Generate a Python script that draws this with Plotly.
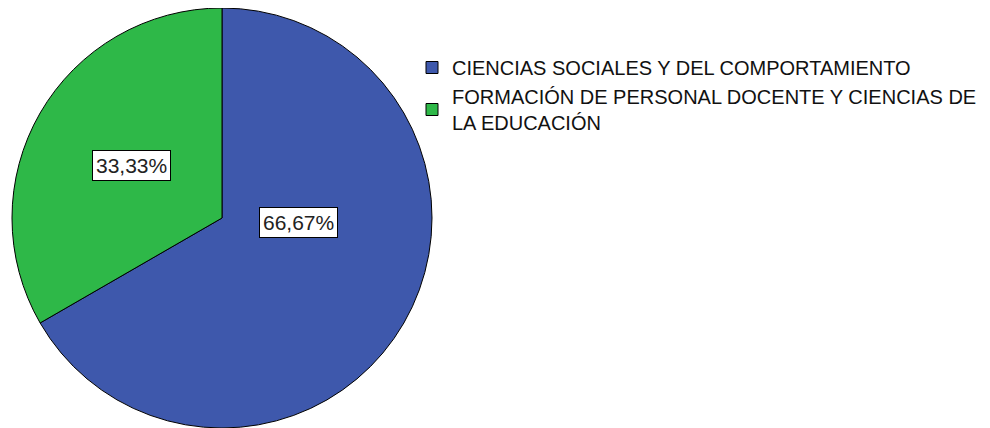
import math
import plotly.graph_objects as go

# Data
categories = [
    "CIENCIAS SOCIALES Y DEL COMPORTAMIENTO",
    "FORMACIÓN DE PERSONAL DOCENTE Y CIENCIAS DE<br>LA EDUCACIÓN",
]
values = [66.67, 33.33]
value_labels = ["66,67%", "33,33%"]
colors = ["#3E58AC", "#2EB848"]

W, H = 990, 428
OFF = 8  # page body margin
# pie geometry (screen pixels of the reference)
cx, cy, R = 222 - OFF, 218 - OFF, 210
dom_x = [(cx - R) / W, (cx + R) / W]
dom_y = [max(0, 1 - (cy + R) / H), min(1, 1 - (cy - R) / H)]

fig = go.Figure()
fig.add_trace(go.Pie(
    labels=categories,
    values=values,
    sort=False,
    direction="clockwise",
    rotation=0,
    marker=dict(colors=colors, line=dict(color="black", width=1)),
    textinfo="none",
    hoverinfo="label+percent",
    domain=dict(x=dom_x, y=dom_y),
))

# label placement (angle in degrees from 3 o'clock, radius fraction)
label_pos = [(-3, 0.367), (150, 0.50)]
for txt, (ang, rf) in zip(value_labels, label_pos):
    px = cx + rf * R * math.cos(math.radians(ang))
    py = cy - rf * R * math.sin(math.radians(ang))
    fig.add_annotation(
        x=px / W, y=1 - py / H, xref="paper", yref="paper",
        text=txt, showarrow=False,
        font=dict(family="Liberation Sans, Arial", size=21, color="#222222"),
        bgcolor="white", bordercolor="black", borderwidth=1, borderpad=3,
        xanchor="center", yanchor="middle",
    )

fig.update_layout(
    width=W, height=H,
    margin=dict(l=0, r=0, t=0, b=0),
    paper_bgcolor="white",
    plot_bgcolor="white",
    showlegend=True,
    legend=dict(
        x=(412 - OFF) / W, y=1 - (48 - OFF) / H, xanchor="left", yanchor="top",
        font=dict(family="Liberation Sans, Arial", size=20, color="#111111"),
        bgcolor="rgba(0,0,0,0)",
        tracegroupgap=0,
    ),
)

fig.write_html("out.html")
